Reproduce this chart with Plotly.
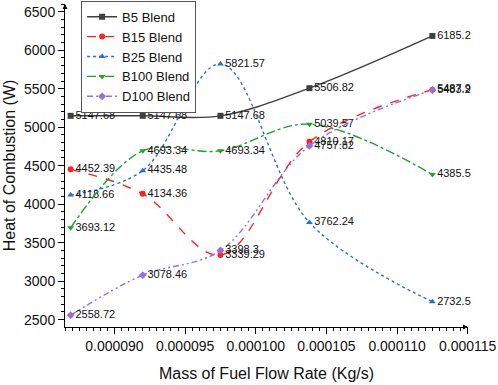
import plotly.graph_objects as go

x_flow = [0.0000869, 0.0000920, 0.0000975, 0.0001038, 0.0001125]
b5 = [5147.68, 5147.68, 5147.68, 5506.82, 6185.2]
b15 = [4452.39, 4134.36, 3339.29, 4810.17, 5487.9]
b25 = [4118.66, 4435.48, 5821.57, 3762.24, 2732.5]
b100 = [3693.12, 4693.34, 4693.34, 5039.57, 4385.5]
d100 = [2558.72, 3078.46, 3398.3, 4757.82, 5483.2]

series = [
    ("B5 Blend", b5, "#3f3f3f", "solid", "square"),
    ("B15 Blend", b15, "#ff2020", "dash", "circle"),
    ("B25 Blend", b25, "#2a6fd6", "dot", "triangle-up"),
    ("B100 Blend", b100, "#22a02a", "dashdot", "triangle-down"),
    ("D100 Blend", d100, "#9370db", "6px 3px 2px 3px 2px 3px", "diamond"),
]

FONT = "Liberation Sans, Arial, sans-serif"
fig = go.Figure()
for name, ys, col, dash, sym in series:
    fig.add_trace(go.Scatter(
        x=x_flow, y=ys, name=name, mode="lines+markers+text",
        line=dict(color=col, width=1.4, dash=dash, shape="spline", smoothing=1.0),
        marker=dict(symbol=sym, size=6, color=col),
        text=[f"{v:g}" for v in ys], textposition="middle right",
        textfont=dict(family=FONT, size=11, color="#111111"),
        cliponaxis=False,
    ))

fig.update_layout(
    width=498, height=385,
    margin=dict(l=65, r=30, t=4, b=58, autoexpand=False),
    paper_bgcolor="white", plot_bgcolor="white",
    font=dict(family=FONT, color="#111111"),
    showlegend=True,
    legend=dict(x=0.04, y=1.01, xanchor="left", yanchor="top",
                bordercolor="#555555", borderwidth=1, bgcolor="white",
                font=dict(family=FONT, size=13), tracegroupgap=0,
                itemwidth=30),
    xaxis=dict(range=[0.0000865, 0.00011502], tickformat=".6f",
               tick0=0.00009, dtick=0.000005,
               showline=True, linecolor="black", linewidth=1,
               ticks="outside", ticklen=6, tickcolor="black",
               minor=dict(dtick=0.0000005, ticks="outside", ticklen=3, tickcolor="black"),
               showgrid=False, zeroline=False,
               tickfont=dict(size=14),
               title=dict(text="Mass of Fuel Flow Rate (Kg/s)", font=dict(size=16), standoff=15)),
    yaxis=dict(range=[2405, 6600], tick0=2500, dtick=500,
               showline=True, linecolor="black", linewidth=1,
               ticks="outside", ticklen=6, tickcolor="black",
               minor=dict(dtick=100, ticks="outside", ticklen=3, tickcolor="black"),
               showgrid=False, zeroline=False,
               tickfont=dict(size=14),
               title=dict(text="Heat of Combustion (W)", font=dict(size=16), standoff=4)),
)

# axis arrows
fig.add_annotation(x=1.0, y=0, xref="paper", yref="paper", ax=-6, ay=0,
                   showarrow=True, arrowhead=2, arrowsize=1, arrowwidth=1, arrowcolor="black", text="")
fig.add_annotation(x=0, y=1.0, xref="paper", yref="paper", ax=0, ay=6,
                   showarrow=True, arrowhead=2, arrowsize=1, arrowwidth=1, arrowcolor="black", text="")

fig.write_html("out.html", config={"displayModeBar": False},
               post_script="document.body.style.margin='0';")
